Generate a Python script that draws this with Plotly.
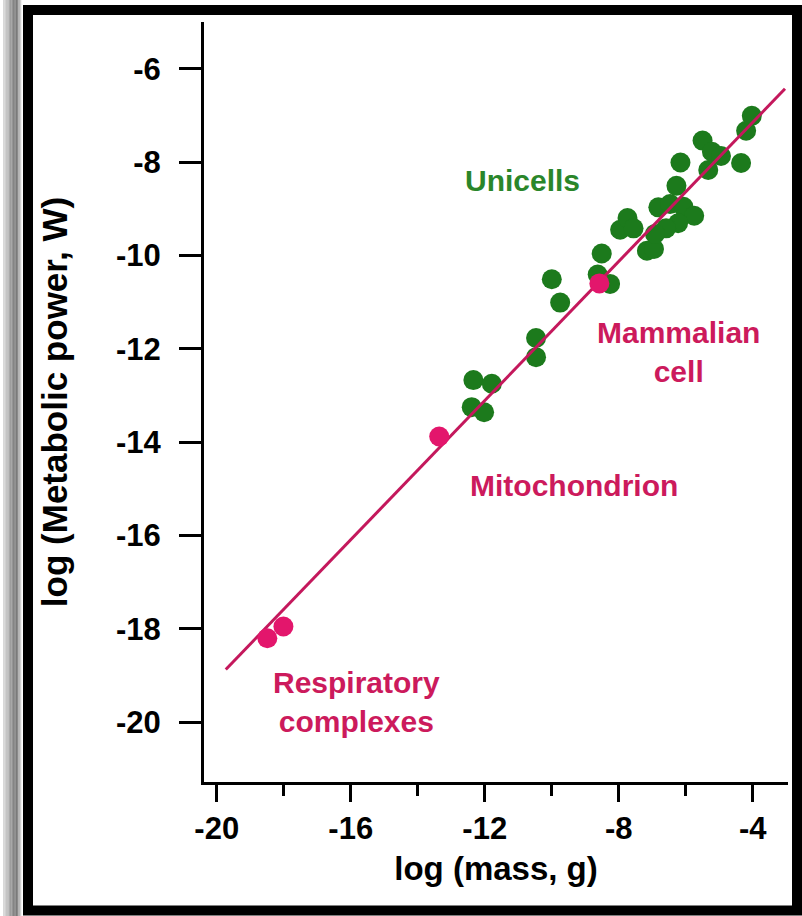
import plotly.graph_objects as go

# ---- data ----
green_x = [-12.39, -12.02, -12.34, -11.79, -10.47, -10.47, -10.00, -9.75, -8.51, -8.63,
           -8.26, -7.96, -7.74, -7.56, -7.16, -6.95, -6.82, -6.47, -6.07, -5.75,
           -6.23, -6.59, -6.92, -6.28, -6.16, -5.33, -5.50, -5.22, -4.95, -4.35,
           -4.20, -4.03]
green_y = [-13.25, -13.36, -12.67, -12.75, -11.77, -12.18, -10.51, -11.01, -9.96, -10.41,
           -10.61, -9.45, -9.20, -9.42, -9.90, -9.86, -8.97, -8.90, -8.96, -9.15,
           -9.31, -9.42, -9.54, -8.51, -8.01, -8.17, -7.54, -7.78, -7.87, -8.02,
           -7.33, -7.01]
pink_x = [-18.49, -18.01, -13.36, -8.58]
pink_y = [-18.20, -17.95, -13.88, -10.60]
fit_x = [-19.73, -3.04]
fit_y = [-18.87, -6.43]

x_ticks = [-20, -16, -12, -8, -4]
x_tick_labels = ["-20", "-16", "-12", "-8", "-4"]
y_ticks = [-6, -8, -10, -12, -14, -16, -18, -20]
y_tick_labels = ["-6", "-8", "-10", "-12", "-14", "-16", "-18", "-20"]

label_text = ["Unicells", "Mammalian<br>cell", "Mitochondrion", "Respiratory<br>complexes"]
label_x = [-10.86, -6.21, -9.33, -15.82]
label_y = [-8.40, -12.06, -14.93, -19.57]
label_group = ["green", "pink", "pink", "pink"]

GREEN = "#1c7a1c"
GREEN_TXT = "#2a862a"
LINE = "#c4185c"
PINK = "#e3166c"
PINK_TXT = "#cc1a5c"
FONT = "Liberation Sans, Arial, Helvetica, sans-serif"

W, H = 802, 916
ML, MR, MT, MB = 204, 14, 22, 134
PW, PH = W - ML - MR, H - MT - MB


def px(xp):
    return (xp - ML) / PW


def py(yp):
    return (H - MB - yp) / PH


fig = go.Figure()
fig.add_trace(go.Scatter(x=green_x, y=green_y, mode="markers",
                         marker=dict(size=20, color=GREEN, line=dict(width=0)),
                         showlegend=False, cliponaxis=False))
fig.add_trace(go.Scatter(x=fit_x, y=fit_y, mode="lines",
                         line=dict(color=LINE, width=3), showlegend=False))
fig.add_trace(go.Scatter(x=pink_x, y=pink_y, mode="markers",
                         marker=dict(size=20, color=PINK, line=dict(width=0)),
                         showlegend=False, cliponaxis=False))

for t, x, y, g in zip(label_text, label_x, label_y, label_group):
    fig.add_annotation(x=x, y=y, text=t, showarrow=False, xanchor="center", yanchor="middle",
                       align="center",
                       font=dict(family=FONT, size=30, color=GREEN_TXT if g == "green" else PINK_TXT,
                                 weight="bold"))

# frame: left grey shadow + thick black border
shapes = []
greys = ["#d8d8d8", "#cfcfcf", "#c4c4c4", "#b8b8b8", "#ababab", "#9d9d9d", "#8f8f8f",
         "#848484", "#7c7c7c", "#7a7a7a", "#8a8a8a", "#a8a8a8", "#d0d0d0"]
for i, c in enumerate(greys):
    x0 = 3 + i * 1.4
    shapes.append(dict(type="rect", xref="paper", yref="paper", x0=px(x0), x1=px(x0 + 1.5),
                       y0=py(916), y1=py(0), fillcolor=c, line=dict(width=0), layer="below"))
shapes.append(dict(type="rect", xref="paper", yref="paper", x0=px(28), x1=px(797),
                   y0=py(910.5), y1=py(10), fillcolor="rgba(0,0,0,0)",
                   line=dict(color="black", width=10), layer="above"))

fig.update_layout(
    width=W, height=H,
    margin=dict(l=ML, r=MR, t=MT, b=MB, pad=0),
    paper_bgcolor="white", plot_bgcolor="white",
    font=dict(family=FONT, color="black", weight="bold"),
    shapes=shapes,
    xaxis=dict(range=[-20.38, -2.95], tickvals=x_ticks, ticktext=x_tick_labels,
               ticks="outside", ticklen=17, tickwidth=3,
               tickcolor="black", showline=True, linewidth=3, linecolor="black",
               showgrid=False, zeroline=False,
               minor=dict(dtick=2, tick0=-20, ticks="outside", ticklen=11, tickwidth=3,
                          tickcolor="black", showgrid=False),
               tickfont=dict(size=31, family=FONT, weight="bold"), ticklabelstandoff=0,
               title=dict(text="log (mass, g)", font=dict(size=33, family=FONT, weight="bold"),
                          standoff=12)),
    yaxis=dict(range=[-21.28, -5.0], tickvals=y_ticks, ticktext=y_tick_labels,
               ticks="outside", ticklen=22, tickwidth=3,
               tickcolor="black", showline=True, linewidth=3, linecolor="black",
               showgrid=False, zeroline=False,
               tickfont=dict(size=31, family=FONT, weight="bold"), ticklabelstandoff=12,
               title=dict(text="log (Metabolic power, W)",
                          font=dict(size=35, family=FONT, weight="bold"), standoff=38)),
)

fig.write_html("out.html", config={"displayModeBar": False},
               post_script="document.body.style.margin='0';document.documentElement.style.overflow='hidden';")
